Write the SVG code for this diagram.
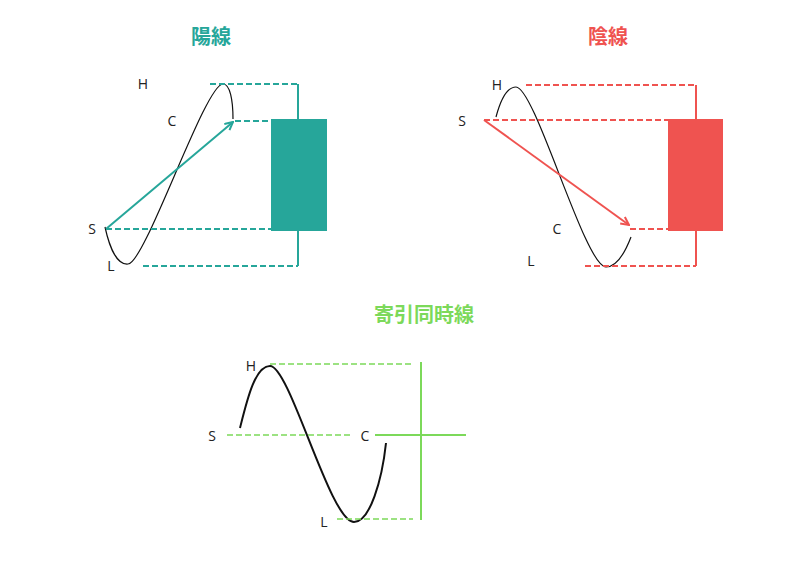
<svg xmlns="http://www.w3.org/2000/svg" width="800" height="566" viewBox="0 0 800 566">
<defs>
<style>
.title{font-family:"Noto Sans CJK JP","Noto Sans",sans-serif;font-weight:bold;font-size:20px;text-anchor:middle}
.lbl{font-family:"Open Sans","Liberation Sans",sans-serif;font-size:14px;fill:#222;text-anchor:middle}
.curve{fill:none;stroke:#111;stroke-width:1.2}
.curve2{fill:none;stroke:#111;stroke-width:2}
.tdash{stroke:#26A69A;stroke-width:2;stroke-dasharray:6 3;fill:none}
.tsolid{stroke:#26A69A;stroke-width:2;fill:none}
.rdash{stroke:#EF5350;stroke-width:2;stroke-dasharray:6 3;fill:none}
.rsolid{stroke:#EF5350;stroke-width:2;fill:none}
.gdash{stroke:#7CD95A;stroke-width:1.5;stroke-dasharray:6 3;fill:none}
.gsolid{stroke:#7CD95A;stroke-width:2;fill:none}
</style>
<marker id="ta" viewBox="0 0 10 10" refX="9" refY="5" markerWidth="5" markerHeight="5" orient="auto" markerUnits="strokeWidth">
<path d="M1,1 L9,5 L1,9" fill="none" stroke="#26A69A" stroke-width="2"/>
</marker>
<marker id="ra" viewBox="0 0 10 10" refX="9" refY="5" markerWidth="5" markerHeight="5" orient="auto" markerUnits="strokeWidth">
<path d="M1,1 L9,5 L1,9" fill="none" stroke="#EF5350" stroke-width="2"/>
</marker>
</defs>
<rect width="800" height="566" fill="#fff"/>

<g id="yang">
<text class="title" x="211" y="44" fill="#26A69A">陽線</text>
<rect id="yang-body" x="271" y="119" width="56" height="112" fill="#26A69A"/>
<text class="lbl" x="143" y="89">H</text>
<text class="lbl" x="172" y="126">C</text>
<text class="lbl" x="92" y="234">S</text>
<text class="lbl" x="111" y="271">L</text>
<path class="curve" d="M105,227 C110,250 118,265 128,264 C145,264 205,84 223,84 C230,84 233,100 233,119"/>
</g>

<g id="yin">
<text class="title" x="608" y="44" fill="#EF5350">陰線</text>
<rect id="yin-body" x="668" y="119" width="55" height="112" fill="#EF5350"/>
<text class="lbl" x="497" y="90">H</text>
<text class="lbl" x="462" y="126">S</text>
<text class="lbl" x="557" y="234">C</text>
<text class="lbl" x="531" y="266">L</text>
<path class="curve" d="M496,117 C500,102 506,87 516,87 C535,87 585,267 606,267 C618,267 626,250 631,237"/>
</g>

<g id="doji">
<text class="title" x="424" y="322" fill="#7CD95A">寄引同時線</text>
<text class="lbl" x="251" y="371">H</text>
<text class="lbl" x="212" y="441">S</text>
<text class="lbl" x="365" y="441">C</text>
<text class="lbl" x="324" y="527">L</text>
<path class="curve2" d="M240,428 C247,400 255,366 270,366 C290,366 330,522 354,522 C370,522 382,480 386,443"/>
</g>

<g id="connectors">
<path class="tdash" d="M210,84 H298"/>
<path class="tsolid" d="M298,84 V119"/>
<path class="tdash" d="M235,121 H271"/>
<path class="tdash" d="M106,229 H271"/>
<path class="tsolid" d="M298,231 V266"/>
<path class="tdash" d="M143,266 H298"/>
<path class="tsolid" d="M106,229 L233,122" marker-end="url(#ta)"/>

<path class="rdash" d="M526,85 H696"/>
<path class="rsolid" d="M696,85 V119"/>
<path class="rdash" d="M484,120 H668"/>
<path class="rdash" d="M630,229 H668"/>
<path class="rsolid" d="M696,231 V266"/>
<path class="rdash" d="M585,266 H696"/>
<path class="rsolid" d="M484,120 L629,225" marker-end="url(#ra)"/>

<path class="gdash" d="M270,364 H413"/>
<path class="gdash" d="M227,435 H353"/>
<path class="gdash" d="M337,519 H413"/>
<path class="gsolid" d="M421,362 V520"/>
<path class="gsolid" d="M375,435 H466"/>
</g>
</svg>
